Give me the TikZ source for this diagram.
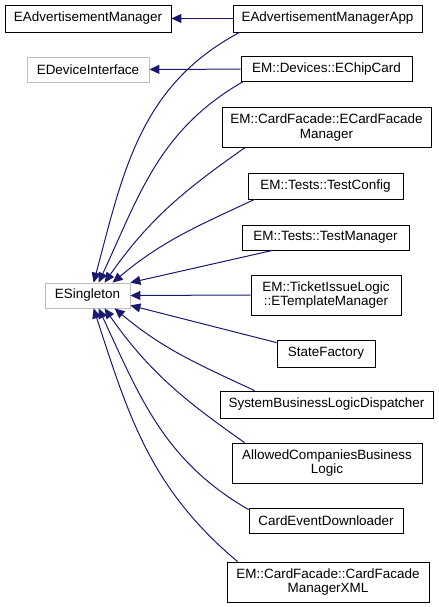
\documentclass[tikz,border=0pt]{standalone}
\usepackage{fontspec}
\setmainfont{Liberation Sans}
\usepackage{xcolor}
\usepackage{tikz}
\usetikzlibrary{arrows.meta, positioning, calc}
\definecolor{dgedge}{HTML}{191970}
\definecolor{dggrey}{HTML}{BFBFBF}
\tikzset{
    classbox/.style={draw=black, fill=white, line width=0.8bp, font=\fontsize{13.5}{15}\selectfont, align=center, inner sep=0pt},
    extbox/.style={classbox, draw=dggrey},
    inherit/.style={draw=dgedge, line width=1bp, -{Triangle[length=10bp,width=9bp]}},
}

\begin{document}
\begin{tikzpicture}[x=1bp, y=1bp]
    \useasboundingbox (0,0) rectangle (439,-607);

    % base classes
    \node[classbox, minimum width=166bp, minimum height=27bp] (advmgr) at (88,-18.5) {EAdvertisementManager};
    \node[extbox, minimum width=122bp, minimum height=25bp] (devif) at (88,-69.5) {EDeviceInterface};
    \node[extbox, minimum width=85bp, minimum height=25bp] (single) at (87.5,-295.5) {ESingleton};

    % derived classes
    \node[classbox, minimum width=189bp, minimum height=27bp] (advapp) at (327.5,-18.5) {EAdvertisementManagerApp};
    \node[classbox, minimum width=171bp, minimum height=25bp] (chipcard) at (326.5,-69) {EM::Devices::EChipCard};
    \node[classbox, minimum width=209bp, minimum height=40bp] (cardmgr) at (326.5,-127.5) {EM::CardFacade::ECardFacade\\Manager};
    \node[classbox, minimum width=155bp, minimum height=26bp] (testcfg) at (325.5,-186) {EM::Tests::TestConfig};
    \node[classbox, minimum width=167bp, minimum height=25bp] (testmgr) at (325.5,-237.5) {EM::Tests::TestManager};
    \node[classbox, minimum width=150bp, minimum height=40bp] (tmplmgr) at (326,-295) {EM::TicketIssueLogic\\::ETemplateManager};
    \node[classbox, minimum width=98bp, minimum height=27bp] (statefac) at (326,-353.5) {StateFactory};
    \node[classbox, minimum width=213bp, minimum height=27bp] (dispatch) at (326.5,-404.5) {SystemBusinessLogicDispatcher};
    \node[classbox, minimum width=190bp, minimum height=40bp] (allowed) at (327,-463) {AllowedCompaniesBusiness\\Logic};
    \node[classbox, minimum width=154bp, minimum height=25bp] (evdown) at (326,-520.5) {CardEventDownloader};
    \node[classbox, minimum width=202bp, minimum height=40bp] (cardxml) at (328,-582) {EM::CardFacade::CardFacade\\ManagerXML};

    % inheritance
    \draw[inherit] (advapp) -- (advmgr);
    \draw[inherit] (chipcard) -- (devif);
    \draw[inherit] ([xshift=7bp]advapp.south west) to[out=-152, in=75] ([xshift=49bp]single.north west);
    \draw[inherit] ([xshift=2bp]chipcard.south west) to[out=-150, in=65] ([xshift=54bp]single.north west);
    \draw[inherit] ([xshift=23bp]cardmgr.south west) to[out=-145, in=55] ([xshift=60bp]single.north west);
    \draw[inherit] ([xshift=7bp]testcfg.south west) to[out=-155, in=40] ([xshift=68bp]single.north west);
    \draw[inherit] ([xshift=31bp]testmgr.south west) -- (single.north east);
    \draw[inherit] (tmplmgr.west) -- (single.east);
    \draw[inherit] ([yshift=-3bp]statefac.north west) -- ([yshift=3bp]single.south east);
    \draw[inherit] ([xshift=35bp]dispatch.north west) to[out=155, in=-40] ([xshift=70bp]single.south west);
    \draw[inherit] ([xshift=13bp]allowed.north west) to[out=145, in=-55] ([xshift=60bp]single.south west);
    \draw[inherit] ([yshift=-2bp]evdown.north west) to[out=150, in=-65] ([xshift=54bp]single.south west);
    \draw[inherit] ([xshift=11bp]cardxml.north west) to[out=140, in=-72] ([xshift=49bp]single.south west);
\end{tikzpicture}
\end{document}
